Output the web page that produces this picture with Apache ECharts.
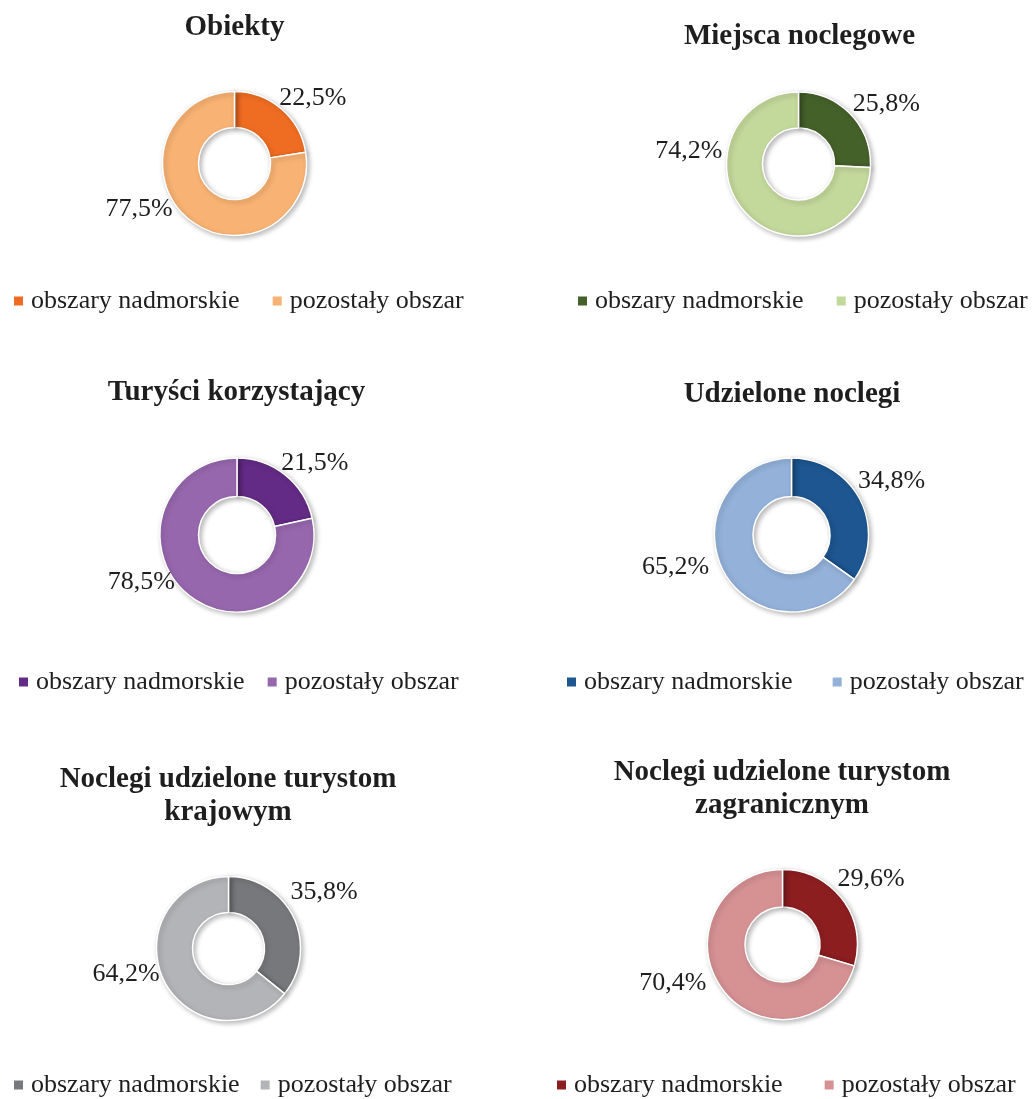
<!DOCTYPE html>
<html>
<head>
<meta charset="utf-8">
<script src="https://cdn.jsdelivr.net/npm/echarts@6/dist/echarts.min.js"></script>
<style>
  html, body { margin: 0; padding: 0; background: #fff; }
  #chart { width: 1035px; height: 1099px; }
</style>
</head>
<body>
<div id="chart"></div>
<script>
// ---- data ----
const chartTitles = [
  'Obiekty',
  'Miejsca noclegowe',
  'Turyści korzystający',
  'Udzielone noclegi',
  'Noclegi udzielone turystom\nkrajowym',
  'Noclegi udzielone turystom\nzagranicznym'
];
const categories = ['obszary nadmorskie', 'pozostały obszar'];
const coastalShare = [22.5, 25.8, 21.5, 34.8, 35.8, 29.6];
const otherShare   = [77.5, 74.2, 78.5, 65.2, 64.2, 70.4];

// ---- styles / layout ----
const darkColors  = ['#EF6D22', '#45612A', '#632B85', '#1D5691', '#77787B', '#8D1E20'];
const lightColors = ['#F8B273', '#C3D89B', '#9767AE', '#93B1D9', '#B3B4B7', '#D69193'];
const FONT = 'Liberation Serif, Times New Roman, serif';
const TXT = '#1e1e1e';

const panels = [
  { cx: 234.5, cy: 163.5, r: 72, tx: 234.5, ty: 28,  lx: 12,  ly: 301,  gap: 31, lab: [[-7, -11], [-10, -9]] },
  { cx: 798.5, cy: 164,   r: 72, tx: 799.5, ty: 37,  lx: 576, ly: 301,  gap: 31, lab: [[-3, -10], [-19, -62]] },
  { cx: 237,   cy: 535,   r: 77, tx: 236.5, ty: 393, lx: 17,  ly: 682,  gap: 21, lab: [[-9, -12], [-9, -13]] },
  { cx: 791.5, cy: 535,   r: 77, tx: 792,   ty: 395, lx: 565, ly: 682,  gap: 38, lab: [[-7, -18], [-9, -3]] },
  { cx: 228.5, cy: 948.5, r: 72, tx: 228,   ty: 796, lx: 12,  ly: 1085, gap: 19, lab: [[-8, -25], [1, -5]] },
  { cx: 782.5, cy: 944.5, r: 75, tx: 782,   ty: 789, lx: 555, ly: 1085, gap: 40, lab: [[-10, -20], [-11, -6]] }
];

const fmt = v => v.toFixed(1).replace('.', ',') + '%';

const titles = [], legends = [], series = [];
panels.forEach((p, i) => {
  const lines = chartTitles[i].split('\n').length;
  titles.push({
    text: chartTitles[i],
    left: p.tx,
    top: p.ty - lines * 33 / 2,
    textAlign: 'center',
    padding: 0,
    textStyle: { fontFamily: FONT, fontSize: 29, fontWeight: 'bold', color: TXT, lineHeight: 33 }
  });
  legends.push({
    orient: 'horizontal',
    left: p.lx,
    top: p.ly - 15,
    padding: 0,
    itemWidth: 11,
    itemHeight: 11,
    itemGap: p.gap,
    selectedMode: false,
    textStyle: { fontFamily: FONT, fontSize: 26, color: TXT, lineHeight: 30, padding: [0, 0, 0, 2] },
    data: categories.map((n, j) => ({ name: n, icon: 'rect', itemStyle: { color: j ? lightColors[i] : darkColors[i] } }))
  });
  series.push({
    type: 'pie',
    center: [p.cx, p.cy],
    radius: [p.r * 0.5, p.r],
    startAngle: 90,
    clockwise: true,
    avoidLabelOverlap: false,
    silent: true,
    label: {
      show: true,
      position: 'outside',
      formatter: prm => fmt(prm.value),
      fontFamily: FONT,
      fontSize: 26,
      color: TXT
    },
    labelLine: { show: false, length: 0, length2: 0 },
    labelLayout: prm => {
      const o = p.lab[prm.dataIndex];
      return { dx: o[0], dy: o[1] };
    },
    itemStyle: {
      borderColor: '#ffffff',
      borderWidth: 1.5,
      shadowBlur: 5,
      shadowColor: 'rgba(0,0,0,0.28)',
      shadowOffsetX: 2,
      shadowOffsetY: 2
    },
    data: [
      { name: categories[0], value: coastalShare[i], itemStyle: { color: darkColors[i] } },
      { name: categories[1], value: otherShare[i], itemStyle: { color: lightColors[i] } }
    ]
  });
});

const chart = echarts.init(document.getElementById('chart'), null, { renderer: 'canvas' });
chart.setOption({
  backgroundColor: '#ffffff',
  animation: false,
  title: titles,
  legend: legends,
  series: series
});
</script>
</body>
</html>
